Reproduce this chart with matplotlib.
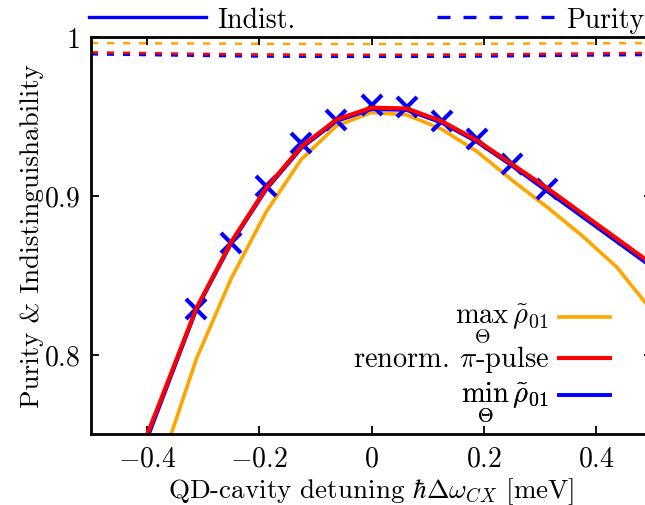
import numpy as np
import matplotlib
matplotlib.use("Agg")
import matplotlib.pyplot as plt
from matplotlib.lines import Line2D

# detuning grid (meV)
detuning = [-0.5, -0.4375, -0.375, -0.3125, -0.25, -0.1875, -0.125, -0.0625, 0.0,
            0.0625, 0.125, 0.1875, 0.25, 0.3125, 0.375, 0.4375, 0.5]

# indistinguishability
indist_max = [0.55, 0.64, 0.731, 0.797, 0.848, 0.890, 0.923, 0.944, 0.9525,
              0.951, 0.942, 0.928, 0.910, 0.893, 0.875, 0.855, 0.8275]
indist_pi = [0.62, 0.716, 0.772, 0.829, 0.871, 0.905, 0.931, 0.948, 0.9555,
             0.955, 0.947, 0.935, 0.920, 0.905, 0.889, 0.873, 0.857]
indist_min = [0.61, 0.712, 0.770, 0.828, 0.870, 0.904, 0.930, 0.947, 0.9545,
              0.954, 0.946, 0.934, 0.919, 0.903, 0.887, 0.871, 0.855]

# purity
purity_max = [0.9962, 0.9961, 0.9960, 0.9959, 0.9958, 0.9957, 0.9957, 0.9956, 0.9956,
              0.9956, 0.9957, 0.9957, 0.9958, 0.9959, 0.9960, 0.9961, 0.9962]
purity_pi = [0.9903, 0.9900, 0.9897, 0.9894, 0.9892, 0.9890, 0.9889, 0.9888, 0.9888,
             0.9888, 0.9889, 0.9890, 0.9892, 0.9894, 0.9896, 0.9898, 0.9900]
purity_min = [0.9891, 0.9888, 0.9885, 0.9882, 0.9879, 0.9877, 0.9876, 0.9875, 0.9875,
              0.9875, 0.9876, 0.9877, 0.9879, 0.9881, 0.9883, 0.9885, 0.9887]

# full-pulse-area sweep points
sweep_x = [-0.3125, -0.25, -0.1875, -0.125, -0.0625, 0.0, 0.0625, 0.125, 0.1875, 0.25, 0.3125]
sweep_y = [0.8285, 0.870, 0.9063, 0.933, 0.948, 0.957, 0.9557, 0.947, 0.936, 0.920, 0.904]

xticks = [-0.4, -0.2, 0.0, 0.2, 0.4]
xticklabels = [r"$-0.4$", r"$-0.2$", r"$0$", r"$0.2$", r"$0.4$"]
yticks = [0.8, 0.9, 1.0]
yticklabels = [r"$0.8$", r"$0.9$", r"$1$"]

ORANGE = "#ffa500"
RED = "#ff0000"
BLUE = "#0000ff"

plt.rcParams["font.family"] = "serif"
plt.rcParams["font.serif"] = ["cmr10"]
plt.rcParams["mathtext.fontset"] = "cm"
plt.rcParams["font.size"] = 20
plt.rcParams["axes.unicode_minus"] = False

fig = plt.figure(figsize=(6.45, 5.06), dpi=100)
ax = fig.add_axes([91 / 645, 1 - 435 / 506, 561 / 645, 397 / 506])

ax.plot(detuning, purity_max, "--", color=ORANGE, lw=1.8, dashes=(2.8, 3.6))
ax.plot(detuning, purity_min, "--", color=BLUE, lw=1.8, dashes=(2.8, 3.6))
ax.plot(detuning, purity_pi, "--", color=RED, lw=1.8, dashes=(2.8, 3.6))

l_max, = ax.plot(detuning, indist_max, "-", color=ORANGE, lw=2.6)
l_min, = ax.plot(detuning, indist_min, "-", color=BLUE, lw=2.6)
ax.plot(sweep_x, sweep_y, "x", color=BLUE, ms=14, mew=3)
l_pi, = ax.plot(detuning, indist_pi, "-", color=RED, lw=3.0)

ax.set_xlim(-0.5, 0.5)
ax.set_ylim(0.75, 1.0)
ax.set_xticks(xticks, labels=xticklabels)
ax.set_yticks(yticks, labels=yticklabels)
ax.tick_params(direction="in", top=True, right=True, length=6, width=1.3, pad=8)
ax.set_axisbelow(True)
for s in ax.spines.values():
    s.set_linewidth(2.0)

ax.set_xlabel(r"QD-cavity detuning $\hbar\Delta\omega_{CX}$ [meV]", fontsize=19.5, labelpad=3)
ax.set_ylabel("Purity & Indistinguishability", fontsize=19.5, labelpad=0)

# one legend per curve so the rows sit evenly spaced
rows = [(l_max, r"$\max_{\Theta}\,\tilde{\rho}_{01}$", 0.279, -0.2),
        (l_pi, r"renorm. $\pi$-pulse", 0.189, 0.42),
        (l_min, r"$\min_{\Theta}\,\tilde{\rho}_{01}$", 0.083, -0.2)]
for handle, label, ypos, hh in rows:
    leg = ax.legend([handle], [label], loc="center right", bbox_to_anchor=(0.925, ypos),
                    frameon=False, markerfirst=False, fontsize=20.5,
                    handlelength=1.8, handleheight=hh, handletextpad=0.35,
                    borderpad=0, borderaxespad=0)
    ax.add_artist(leg)

style_handles = [Line2D([], [], color=BLUE, lw=2.4),
                 Line2D([], [], color=BLUE, lw=2.4, ls="--", dashes=(3.9, 3.9))]
fig.legend(style_handles, ["Indist.", "Purity"], loc="center left",
           bbox_to_anchor=(89 / 645, 1 - 21 / 506), ncol=2, frameon=False, fontsize=20,
           handlelength=4.2, handletextpad=0.43, columnspacing=5.1,
           borderpad=0, borderaxespad=0)

fig.savefig("out.png", dpi=100)
